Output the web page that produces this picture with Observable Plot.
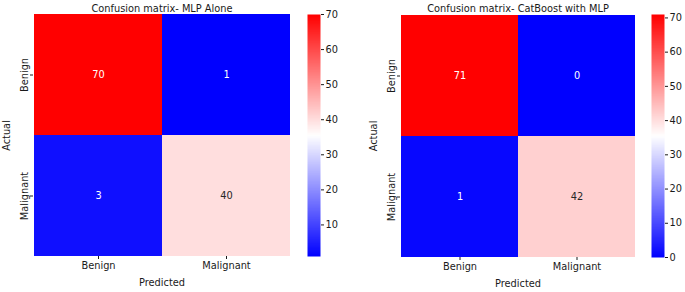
<!DOCTYPE html>
<html><head><meta charset="utf-8">
<script src="https://cdn.jsdelivr.net/npm/d3@7"></script>
<script src="https://cdn.jsdelivr.net/npm/@observablehq/plot@0.6"></script>
<style>
body{margin:0;background:#fff;}
#wrap{position:relative;width:685px;height:292px;overflow:hidden;font-family:"DejaVu Sans",sans-serif;}
#wrap > div{position:absolute;top:0;}
</style></head><body><div id="wrap"></div>
<script>
const classes = ["Benign", "Malignant"];
const titles = ["Confusion matrix- MLP Alone", "Confusion matrix- CatBoost with MLP"];
// rows = actual, columns = predicted
const mlpAlone = [[70, 1], [3, 40]];
const catboostMlp = [[71, 0], [1, 42]];
const cbTicks1 = [10, 20, 30, 40, 50, 60, 70];
const cbTicks2 = [0, 10, 20, 30, 40, 50, 60, 70];

const FONT = {fontFamily: "DejaVu Sans", fontSize: "9.8px", color: "#1a1a1a", background: "transparent", overflow: "visible"};

function toRows(mat) {
  const rows = [];
  classes.forEach((a, i) => classes.forEach((p, j) => rows.push({actual: a, predicted: p, value: mat[i][j]})));
  return rows;
}
function colorOpts(lo, hi) {
  return {type: "linear", domain: [lo, (lo + hi) / 2, hi], range: ["#0000ff", "#ffffff", "#ff0000"], interpolate: "rgb"};
}
function lum(c) {
  const f = v => { v /= 255; return v <= 0.03928 ? v / 12.92 : Math.pow((v + 0.055) / 1.055, 2.4); };
  const r = d3.rgb(c);
  return 0.2126 * f(r.r) + 0.7152 * f(r.g) + 0.0722 * f(r.b);
}

function heat(mat, title, o) {
  const data = toRows(mat);
  const vals = data.map(d => d.value);
  const lo = d3.min(vals), hi = d3.max(vals);
  const color = colorOpts(lo, hi);
  const sc = d3.scaleLinear().domain(color.domain).range(color.range).interpolate(d3.interpolateRgb);
  return Plot.plot({
    width: o.width, height: 292,
    marginLeft: o.ml, marginRight: o.mr, marginTop: 14, marginBottom: o.mb,
    style: FONT,
    x: {type: "band", domain: classes, padding: 0},
    y: {type: "band", domain: classes, padding: 0},
    color,
    marks: [
      Plot.cell(data, {x: "predicted", y: "actual", fill: "value", inset: 0}),
      Plot.text(data, {x: "predicted", y: "actual", text: d => String(d.value), fontSize: 9.8,
        fill: d => lum(sc(d.value)) > 0.408 ? "#262626" : "#ffffff"}),
      Plot.axisX({tickSize: 3, tickPadding: 3, label: "Predicted", labelAnchor: "center", labelOffset: 29, labelArrow: "none"}),
      Plot.axisY({tickSize: 3, tickPadding: 3, tickRotate: -90, label: "Actual", labelAnchor: "center", labelOffset: 30, labelArrow: "none"}),
      Plot.text([title], {frameAnchor: "top", dy: -9, text: d => d, fontSize: 9.8, fill: "#1a1a1a"})
    ]
  });
}

function colorbar(mat, ticks, o) {
  const vals = toRows(mat).map(d => d.value);
  const lo = d3.min(vals), hi = d3.max(vals);
  return Plot.plot({
    width: o.width, height: 292,
    marginLeft: o.ml, marginRight: o.mr, marginTop: 14, marginBottom: o.mb,
    style: FONT,
    x: {domain: [0, 1], axis: null},
    y: {domain: [lo, hi]},
    color: colorOpts(lo, hi),
    marks: [
      Plot.raster({fill: (x, y) => y, x1: 0, x2: 1, y1: lo, y2: hi, width: 1, height: 400, imageRendering: "auto"}),
      Plot.axisY({anchor: "right", ticks, tickSize: 3, tickPadding: 2, label: null})
    ]
  });
}

const wrap = document.getElementById("wrap");
function place(node, left, width) {
  const d = document.createElement("div");
  d.style.left = left + "px";
  d.style.width = width + "px";
  d.appendChild(node);
  wrap.appendChild(d);
}
place(heat(mlpAlone, titles[0], {width: 300, ml: 33, mr: 10, mb: 36}), 0, 300);
place(colorbar(mlpAlone, cbTicks1, {width: 46, ml: 7, mr: 26, mb: 36}), 300, 46);
place(heat(catboostMlp, titles[1], {width: 300, ml: 55, mr: 10, mb: 35}), 345, 300);
place(colorbar(catboostMlp, cbTicks2, {width: 42, ml: 8, mr: 21, mb: 35}), 643, 42);
</script>
</body></html>
